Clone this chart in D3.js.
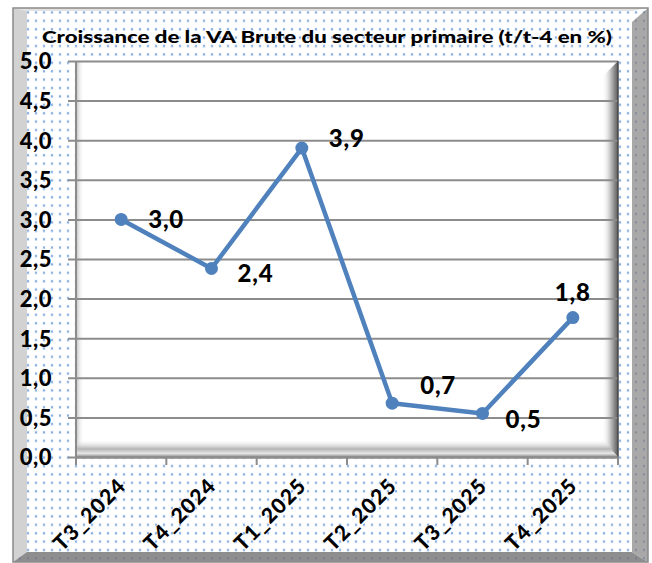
<!DOCTYPE html>
<html>
<head>
<meta charset="utf-8">
<script src="https://cdn.jsdelivr.net/npm/d3@7"></script>
<style>
  body { margin: 0; background: #fff; }
  text { font-family: Lato, "Open Sans", sans-serif; font-weight: 900; fill: #000; }
</style>
</head>
<body>
<svg id="chart"></svg>
<script>
const categories = ["T3_2024", "T4_2024", "T1_2025", "T2_2025", "T3_2025", "T4_2025"];
const values = [3.0, 2.38, 3.9, 0.68, 0.55, 1.76];
const valueLabels = ["3,0", "2,4", "3,9", "0,7", "0,5", "1,8"];
const yTicks = [0, 0.5, 1, 1.5, 2, 2.5, 3, 3.5, 4, 4.5, 5];
const title = "Croissance de la VA Brute du secteur primaire (t/t-4 en %)";

// where each data label sits relative to its point
const labelOffsets = [[27, 0, "start"], [26, 5, "start"], [27, -10, "start"], [28, -18, "start"], [23, 6, "start"], [0, -25, "middle"]];

const width = 652, height = 563;
const plot = { left: 76, right: 618, top: 61, bottom: 457 };

const svg = d3.select("#chart").attr("width", width).attr("height", height);
const defs = svg.append("defs");

// dotted fill
const pat = defs.append("pattern").attr("id", "dots")
  .attr("patternUnits", "userSpaceOnUse").attr("width", 8).attr("height", 8.4);
pat.append("rect").attr("x", 2.5).attr("y", 2.5).attr("width", 3).attr("height", 3).attr("fill", "#e2ebf8");
pat.append("rect").attr("x", 3).attr("y", 3).attr("width", 2).attr("height", 2).attr("fill", "#8aaee0");

const patDark = defs.append("pattern").attr("id", "dotsDark")
  .attr("patternUnits", "userSpaceOnUse").attr("width", 8).attr("height", 8.4);
patDark.append("rect").attr("x", 3).attr("y", 3).attr("width", 2).attr("height", 2).attr("fill", "#5f6f86").attr("opacity", 0.5);

function grad(id, x1, y1, x2, y2, stops) {
  const g = defs.append("linearGradient").attr("id", id)
    .attr("x1", x1).attr("y1", y1).attr("x2", x2).attr("y2", y2);
  stops.forEach(s => g.append("stop").attr("offset", s[0]).attr("stop-color", s[1]).attr("stop-opacity", s[2] == null ? 1 : s[2]));
}
grad("shR", 0, 0, 1, 0, [[0, "#fff", 0], [0.5, "#c8c8c8", 1], [1, "#5a5a5a", 1]]);
grad("shB", 0, 0, 0, 1, [[0, "#fff", 0], [0.55, "#b4b4b4", 1], [0.8, "#e6e6e6", 1], [1, "#8c8c8c", 1]]);
grad("shL", 0, 0, 1, 0, [[0, "#bdbdbd", 1], [1, "#fff", 0]]);

// outer frame
const fx0 = 13, fy0 = 8, fx1 = 648, fy1 = 562;
svg.append("rect").attr("x", fx0).attr("y", fy0).attr("width", fx1 - fx0).attr("height", fy1 - fy0).attr("fill", "#fff");
svg.append("rect").attr("x", fx0).attr("y", fy0).attr("width", fx1 - fx0).attr("height", fy1 - fy0).attr("fill", "url(#dots)");

const bevels = [
  { pts: [[fx0, fy0], [fx1, fy0], [632, 11], [27, 11]], fill: "#e2e2e2" },
  { pts: [[fx0, fy0], [27, 11], [27, 552], [fx0, fy1]], fill: "#d2d2d2" },
  { pts: [[fx0, fy1], [27, 552], [632, 552], [fx1, fy1]], fill: "#8e8e8e" },
  { pts: [[fx1, fy0], [632, 22], [632, 552], [fx1, fy1]], fill: "#a8a8a8" }
];
bevels.forEach((b, i) => {
  const p = b.pts.map(q => q.join(",")).join(" ");
  svg.append("polygon").attr("points", p).attr("fill", b.fill);
  if (i >= 2) svg.append("polygon").attr("points", p).attr("fill", "url(#dotsDark)");
});
svg.append("rect").attr("x", fx0).attr("y", fy0).attr("width", fx1 - fx0).attr("height", fy1 - fy0)
  .attr("fill", "none").attr("stroke", "#8a8a8a").attr("stroke-width", 1.5);

// title
svg.append("text").attr("x", 42).attr("y", 43)
  .attr("font-size", 17).attr("textLength", 570).attr("lengthAdjust", "spacingAndGlyphs")
  .text(title);

// scales
const x = d3.scaleBand().domain(categories).range([plot.left, plot.right]);
const y = d3.scaleLinear().domain([0, 5]).range([plot.bottom, plot.top]);

// plot area with inner shadow
const pw = plot.right - plot.left, ph = plot.bottom - plot.top;
svg.append("rect").attr("x", plot.left).attr("y", plot.top).attr("width", pw).attr("height", ph).attr("fill", "#fff");
svg.append("rect").attr("x", plot.left).attr("y", plot.top).attr("width", 8).attr("height", ph).attr("fill", "url(#shL)");
svg.append("polygon")
  .attr("points", `${plot.right - 16},${plot.top + 16} ${plot.right},${plot.top} ${plot.right},${plot.bottom} ${plot.right - 16},${plot.bottom - 16}`)
  .attr("fill", "url(#shR)");
svg.append("polygon")
  .attr("points", `${plot.left},${plot.bottom - 18} ${plot.right - 16},${plot.bottom - 18} ${plot.right},${plot.bottom} ${plot.left},${plot.bottom}`)
  .attr("fill", "url(#shB)");

// y axis + grid
const yAxis = svg.append("g").attr("transform", `translate(${plot.left},0)`)
  .call(d3.axisLeft(y).tickValues(yTicks).tickSizeInner(-pw).tickSizeOuter(0)
    .tickFormat(d => d3.format(".1f")(d).replace(".", ",")));
yAxis.select(".domain").remove();
yAxis.selectAll(".tick line").attr("x1", -8).attr("stroke", "#8c8c8c").attr("stroke-width", 2);
yAxis.selectAll(".tick text").attr("x", -24).attr("dy", "0.36em")
  .attr("font-size", 22).attr("font-family", "Lato, sans-serif").attr("font-weight", 900)
  .attr("letter-spacing", 0.5).attr("fill", "#000");

// left axis line and right border
svg.append("line").attr("x1", plot.left).attr("x2", plot.left).attr("y1", plot.top).attr("y2", plot.bottom)
  .attr("stroke", "#8c8c8c").attr("stroke-width", 2);
svg.append("line").attr("x1", plot.right).attr("x2", plot.right).attr("y1", plot.top).attr("y2", plot.bottom)
  .attr("stroke", "#4a4a4a").attr("stroke-width", 1.5);

// x axis
const xAxis = svg.append("g").attr("transform", `translate(0,${plot.bottom})`)
  .call(d3.axisBottom(x).tickSize(0));
xAxis.select(".domain").attr("stroke", "#8c8c8c").attr("stroke-width", 2);
xAxis.selectAll(".tick text")
  .attr("text-anchor", "end").attr("dy", null).attr("y", 0)
  .attr("transform", "translate(6,30) rotate(-45)")
  .attr("font-size", 21).attr("font-family", "Lato, sans-serif").attr("font-weight", 900)
  .attr("letter-spacing", 1.2).attr("fill", "#000");
const bounds = categories.map(c => x(c)).concat([plot.right]);
svg.append("g").selectAll("line").data(bounds).join("line")
  .attr("x1", d => d).attr("x2", d => d).attr("y1", plot.bottom).attr("y2", plot.bottom + 8)
  .attr("stroke", "#8c8c8c").attr("stroke-width", 2);

// line series
const cx = d => x(d) + x.bandwidth() / 2;
const line = d3.line().x((d, i) => cx(categories[i])).y(d => y(d));
svg.append("path").datum(values).attr("d", line)
  .attr("fill", "none").attr("stroke", "#4f81bd").attr("stroke-width", 4.5).attr("stroke-linejoin", "round");
svg.append("g").selectAll("circle").data(values).join("circle")
  .attr("cx", (d, i) => cx(categories[i])).attr("cy", d => y(d)).attr("r", 6.5)
  .attr("fill", "#4f81bd");

svg.append("g").selectAll("text").data(values).join("text")
  .attr("x", (d, i) => cx(categories[i]) + labelOffsets[i][0])
  .attr("y", (d, i) => y(d) + labelOffsets[i][1])
  .attr("dy", "0.36em")
  .attr("text-anchor", (d, i) => labelOffsets[i][2])
  .attr("font-size", 24).attr("letter-spacing", 0.8)
  .text((d, i) => valueLabels[i]);
</script>
</body>
</html>
